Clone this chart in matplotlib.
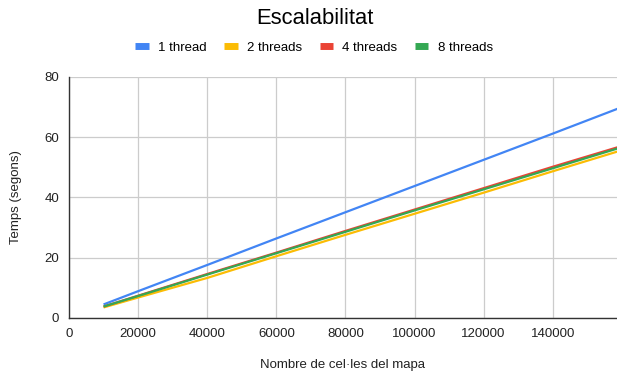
import matplotlib
matplotlib.use("Agg")
import matplotlib.pyplot as plt
from matplotlib.lines import Line2D

plt.rcParams['font.family'] = ['Liberation Sans', 'DejaVu Sans']

cells = [10000, 20000, 40000, 60000, 80000, 100000, 120000, 140000, 160000]
t1 = [4.5, 8.9, 17.6, 26.4, 35.1, 43.8, 52.5, 61.2, 70.0]
t2 = [3.5, 6.8, 13.3, 20.5, 27.6, 34.6, 41.6, 48.7, 55.7]
t4 = [3.8, 7.4, 14.6, 21.7, 28.9, 36.0, 43.1, 50.2, 57.1]
t8 = [3.8, 7.3, 14.4, 21.5, 28.6, 35.7, 42.7, 49.7, 56.7]

series = [("1 thread", t1, "#4285F4"),
          ("2 threads", t2, "#FBBC04"),
          ("4 threads", t4, "#EA4335"),
          ("8 threads", t8, "#34A853")]

xticks = [0, 20000, 40000, 60000, 80000, 100000, 120000, 140000]
yticks = [0, 20, 40, 60, 80]

fig = plt.figure(figsize=(6.17, 3.75), dpi=100)
ax = fig.add_axes([69 / 617, 1 - 318 / 375, 1 - 69 / 617, (318 - 77) / 375])

for name, vals, col in series:
    ax.plot(cells, vals, color=col, lw=1.6, solid_capstyle='butt', label=name)

ax.set_xlim(0, 158600)
ax.set_ylim(0, 80)
ax.set_xticks(xticks)
ax.set_xticklabels([str(v) for v in xticks])
ax.set_yticks(yticks)
ax.grid(True, color="#cccccc", lw=0.9)
ax.set_axisbelow(True)
for s in ["top", "right"]:
    ax.spines[s].set_visible(False)
for s in ["left", "bottom"]:
    ax.spines[s].set_color("#333333")
    ax.spines[s].set_linewidth(1.0)
ax.tick_params(length=0, labelsize=9.5, colors="#222222", pad=7)

ax.set_xlabel("Nombre de cel·les del mapa", fontsize=9.5, color="#222222", labelpad=14)
ax.set_ylabel("Temps (segons)", fontsize=9.5, color="#222222", labelpad=16)

fig.text(0.511, 1 - 18 / 375, "Escalabilitat", ha="center", va="center",
         fontsize=15.8, color="#000000")

handles = [Line2D([0], [0], color=col, lw=5, solid_capstyle='butt')
           for _, _, col in series]
fig.legend(handles, [s[0] for s in series], loc="center",
           bbox_to_anchor=(0.509, 1 - 48 / 375), ncol=4, frameon=False,
           fontsize=9.5, handlelength=1.0, handletextpad=0.7, columnspacing=1.35)

fig.savefig("out.png", dpi=100)
